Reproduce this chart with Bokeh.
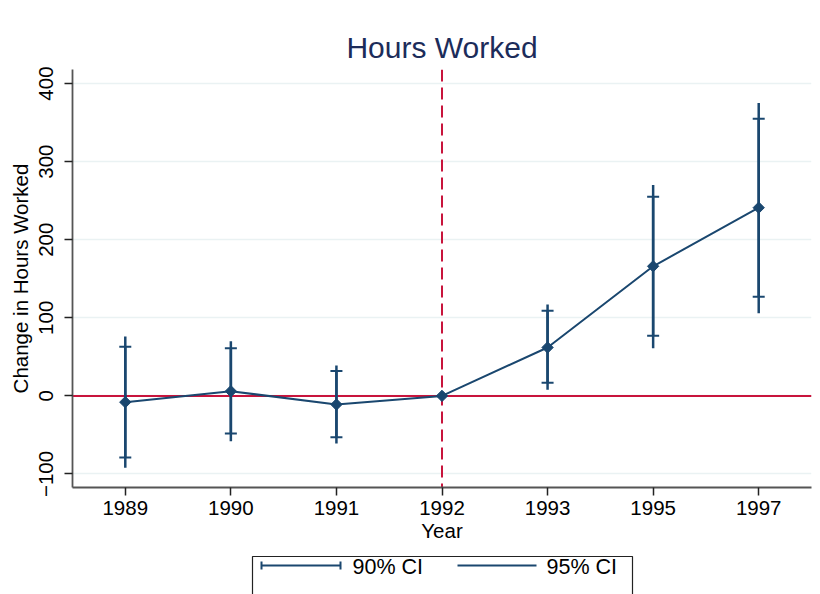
import numpy as np
from bokeh.plotting import figure
from bokeh.models import (ColumnDataSource, Range1d, FixedTicker, Span, Whisker,
                          TeeHead)
from bokeh.layouts import column
from bokeh.core.properties import value
from bokeh.embed import file_html
from bokeh.resources import INLINE

# ---------------- data ----------------
years = ["1989", "1990", "1991", "1992", "1993", "1995", "1997"]
estimate = [-8, 6, -11, 0, 62, 166, 241]
ci95_low = [-92, -58, -61, 0, 8, 61, 106]
ci95_high = [76, 70, 39, 0, 117, 270, 375]
ci90_low = [-79, -48, -53, 0, 17, 77, 127]
ci90_high = [63, 61, 32, 0, 109, 255, 355]
reference_year = "1992"
y_ticks = [-100, 0, 100, 200, 300, 400]
y_tick_labels = ["\u2212100", "0", "100", "200", "300", "400"]
legend_labels = ["90% CI", "95% CI"]

NAVY = "#1a476f"
RED = "#c8143c"
FONT = "Liberation Sans"

pos = list(range(1, len(years) + 1))
src = ColumnDataSource(dict(x=pos, est=estimate))
has_ci = [i for i in range(len(years)) if ci95_low[i] != ci95_high[i]]
ci_src = ColumnDataSource(dict(
    x=[pos[i] for i in has_ci],
    lo95=[ci95_low[i] for i in has_ci], hi95=[ci95_high[i] for i in has_ci],
    lo90=[ci90_low[i] for i in has_ci], hi90=[ci90_high[i] for i in has_ci],
))

p = figure(width=820, height=548, output_backend="svg", toolbar_location=None,
           x_range=Range1d(0.5, len(years) + 0.5), y_range=Range1d(-117.3, 418),
           min_border_left=72, min_border_right=9, min_border_top=69,
           min_border_bottom=61, title="Hours Worked")
p.outline_line_color = None
p.background_fill_color = "white"
p.border_fill_color = "white"

p.title.align = "center"
p.title.text_font = FONT
p.title.text_font_size = "30px"
p.title.text_font_style = "normal"
p.title.text_color = "#1c2c5a"
p.title.standoff = 11

# grid
p.xgrid.visible = False
p.ygrid.grid_line_color = "#eaf2f3"
p.ygrid.grid_line_width = 1.5
p.ygrid.ticker = FixedTicker(ticks=y_ticks)

# axes
for ax in (p.xaxis[0], p.yaxis[0]):
    ax.axis_line_color = "#555555"
    ax.axis_line_width = 1.8
    ax.major_tick_line_color = "#222222"
    ax.major_tick_line_width = 1.5
    ax.major_tick_out = 8
    ax.major_tick_in = 0
    ax.minor_tick_line_color = None
    ax.major_label_text_font = FONT
    ax.major_label_text_font_size = "20.5px"
    ax.major_label_text_color = "black"
    ax.axis_label_text_font = FONT
    ax.axis_label_text_font_size = "20.5px"
    ax.axis_label_text_font_style = "normal"
    ax.axis_label_text_color = "black"

p.xaxis.ticker = FixedTicker(ticks=pos)
p.xaxis.major_label_overrides = {x: y for x, y in zip(pos, years)}
p.xaxis.axis_label = "Year"
p.xaxis.major_label_standoff = 5
p.xaxis.axis_label_standoff = 1

p.yaxis.ticker = FixedTicker(ticks=y_ticks)
p.yaxis.major_label_overrides = {t: l for t, l in zip(y_ticks, y_tick_labels)}
p.yaxis.major_label_orientation = "vertical"
p.yaxis.axis_label = "Change in Hours Worked"
p.yaxis.major_label_standoff = 11
p.yaxis.axis_label_standoff = 5

# reference lines
p.add_layout(Span(location=0, dimension="width", line_color=RED,
                  line_width=2, level="underlay"))
p.add_layout(Span(location=pos[years.index(reference_year)], dimension="height",
                  line_color=RED, line_width=2, line_dash="12 6",
                  level="underlay"))

# 95% CI bars
p.segment(x0="x", y0="lo95", x1="x", y1="hi95", source=ci_src,
          line_color=NAVY, line_width=2.5)
# 90% CI caps
p.add_layout(Whisker(base="x", lower="lo90", upper="hi90", source=ci_src,
                     line_color=NAVY, line_width=2.5,
                     upper_head=TeeHead(size=12, line_color=NAVY, line_width=2),
                     lower_head=TeeHead(size=12, line_color=NAVY, line_width=2)))
# estimate line + markers
p.line("x", "est", source=src, line_color=NAVY, line_width=2)
p.scatter("x", "est", source=src, marker="square", angle=np.pi / 4, size=8,
          fill_color=NAVY, line_color=NAVY)

# ---------------- legend (separate strip, page-pixel coordinates) ----------------
lg = figure(width=820, height=46, output_backend="svg", toolbar_location=None,
            x_range=Range1d(72, 811), y_range=Range1d(46, 0),
            min_border_left=72, min_border_right=9, min_border_top=0,
            min_border_bottom=0, x_axis_location=None, y_axis_location=None)
lg.outline_line_color = None
lg.xgrid.visible = False
lg.ygrid.visible = False
lg.quad(left=[252], right=[632], top=[8], bottom=[80], fill_color=None,
        line_color="#222222", line_width=1.2)
lg.segment(x0=[261, 457], y0=[17, 17], x1=[340, 536], y1=[17, 17],
           line_color=NAVY, line_width=2)
lg.segment(x0=[261, 340], y0=[13, 13], x1=[261, 340], y1=[21, 21],
           line_color=NAVY, line_width=2)
lg.text(x=[352, 546], y=[18, 18], text=legend_labels, text_font=value(FONT),
        text_font_size="21.5px", text_baseline="middle", text_align="left",
        text_color="black")

layout = column(p, lg, spacing=0)
open("out.html", "w").write(file_html(layout, INLINE))
